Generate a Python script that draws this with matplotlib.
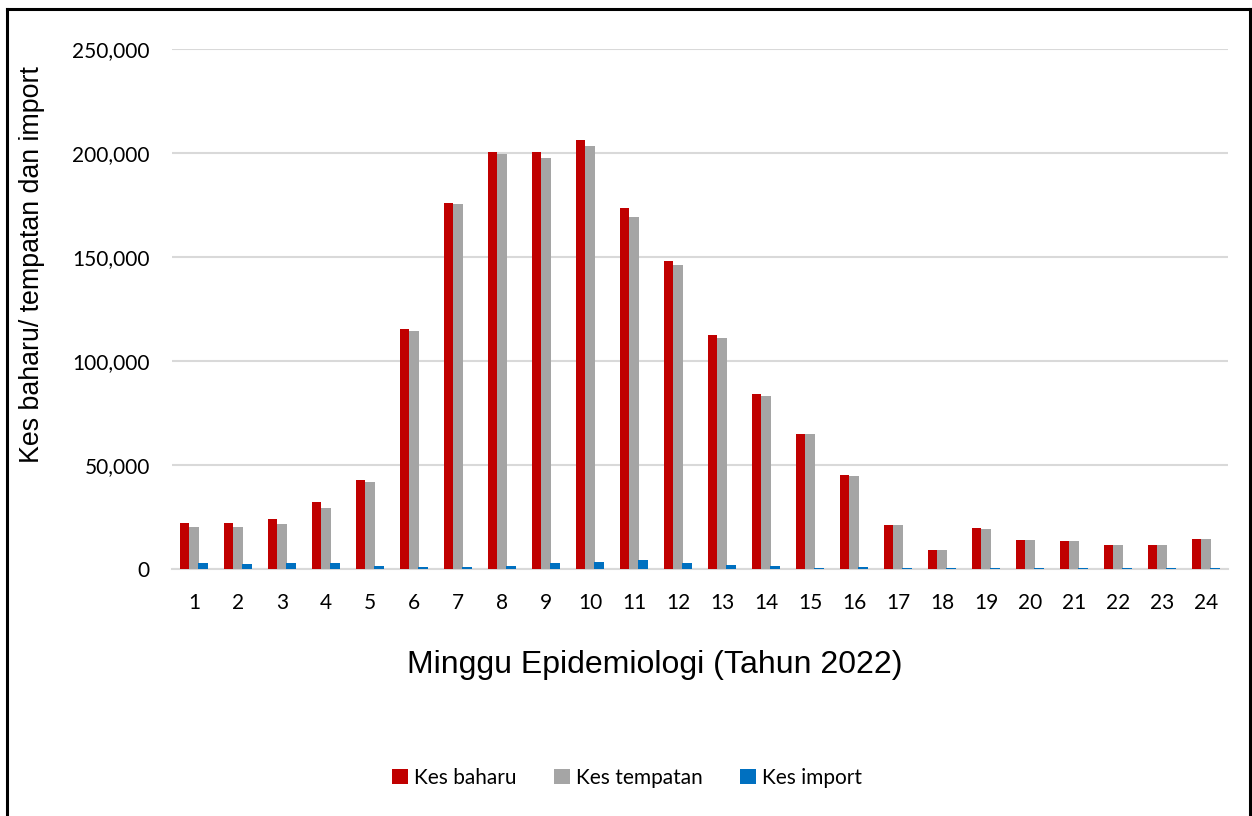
import numpy as np
import matplotlib.pyplot as plt
from matplotlib.lines import Line2D
from matplotlib.ticker import FuncFormatter

minggu = list(range(1, 25))
kes_baharu = [22000, 22300, 24000, 32000, 43000, 115500, 176000, 200600, 200300, 206100,
              173400, 148200, 112500, 84000, 65000, 45000, 21100, 9100, 19500, 13900,
              13400, 11500, 11500, 14600]
kes_tempatan = [20000, 20200, 21600, 29500, 42000, 114500, 175300, 199700, 197800, 203400,
                169400, 146200, 111000, 83000, 64800, 44500, 21000, 9000, 19400, 13800,
                13300, 11400, 11300, 14500]
kes_import = [2700, 2400, 2700, 3000, 1600, 1100, 900, 1400, 2900, 3400,
              4300, 2900, 1900, 1400, 600, 900, 300, 300, 300, 300,
              300, 300, 300, 300]

W, H = 1252, 816
fig = plt.figure(figsize=(W / 100, H / 100), dpi=100)
ax = fig.add_axes([172 / W, 1 - 569 / H, (1228 - 172) / W, (569 - 49) / H])

x = np.array(minggu)
w = 0.22
ax.bar(x - 0.215, kes_baharu, w, color='#c00000', label='Kes baharu', zorder=3)
ax.bar(x, kes_tempatan, w, color='#a5a5a5', label='Kes tempatan', zorder=3)
ax.bar(x + 0.21, kes_import, w, color='#0070c0', label='Kes import', zorder=3)

ax.set_xlim(0.5, 24.5)
ax.set_ylim(0, 250000)
ax.set_yticks(range(0, 250001, 50000))
ax.yaxis.set_major_formatter(FuncFormatter(lambda v, p: f'{int(v):,}'))
ax.set_xticks(minggu)
ax.grid(axis='y', color='#d9d9d9', linewidth=1.5, zorder=0)
for s in ['top', 'right', 'left']:
    ax.spines[s].set_visible(False)
ax.spines['bottom'].set_color('#d9d9d9')
ax.spines['bottom'].set_linewidth(1.5)
ax.tick_params(length=0, labelsize=15)
ax.tick_params(axis='x', pad=17)
ax.tick_params(axis='y', pad=16)
for lab in ax.get_xticklabels() + ax.get_yticklabels():
    lab.set_family('Lato')

fig.text(655 / W, 1 - 665 / H, 'Minggu Epidemiologi (Tahun 2022)', ha='center', va='center',
         fontsize=23, family='Liberation Sans')
fig.text(32 / W, 1 - 265 / H, 'Kes baharu/ tempatan dan import', ha='center', va='center',
         rotation=90, fontsize=19.3, family='Liberation Sans')

leg = fig.legend(loc='center', bbox_to_anchor=(627 / W, 1 - 778 / H), ncol=3, frameon=False,
                 prop={'family': 'Lato', 'size': 15}, handlelength=0.75, handleheight=0.75,
                 handletextpad=0.3, columnspacing=1.8)

# frame around the figure
fig.add_artist(Line2D([6.5 / W, 6.5 / W], [0, 1 - 8.5 / H], color='black', lw=2.2))
fig.add_artist(Line2D([6.5 / W, 1249.5 / W], [1 - 8.5 / H, 1 - 8.5 / H], color='black', lw=2.2))
fig.add_artist(Line2D([1249.5 / W, 1249.5 / W], [0, 1 - 8.5 / H], color='black', lw=2.2))

fig.savefig('out.png', dpi=100)
